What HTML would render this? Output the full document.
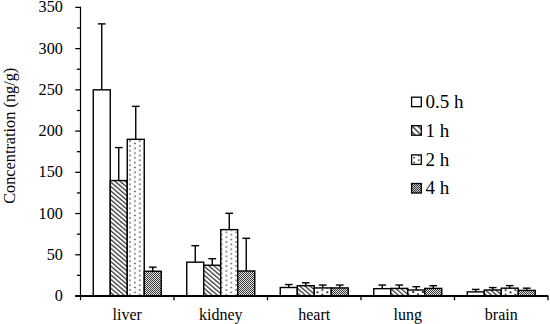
<!DOCTYPE html>
<html><head><meta charset="utf-8"><style>
html,body{margin:0;padding:0;background:#fff;}
body{width:550px;height:324px;overflow:hidden;}
svg{display:block;}
text{font-family:"Liberation Serif",serif;fill:#000;}
.yl{font-size:16.2px;text-anchor:end;}
.xl{font-size:16px;text-anchor:middle;}
.yt{font-size:16.3px;text-anchor:middle;}
.lg{font-size:19px;}
.b{stroke:#000;stroke-width:1.4;}
.lb{stroke:#000;stroke-width:1.3;}
.e{stroke:#000;stroke-width:1.4;}
.ax{stroke:#000;stroke-width:1.2;}
.xax{stroke:#000;stroke-width:2;}
.t{stroke:#000;stroke-width:1.3;}
</style></head><body>
<svg width="550" height="324" viewBox="0 0 550 324">
<defs>
<pattern id="hatch" patternUnits="userSpaceOnUse" width="3.36" height="3.36" patternTransform="rotate(-49.5)">
<rect width="3.36" height="3.36" fill="#fff"/><rect x="0.18" y="0" width="1.0" height="3.36" fill="#000"/>
</pattern>
<pattern id="dots" patternUnits="userSpaceOnUse" width="10" height="4.8">
<rect width="10" height="4.8" fill="#fff"/>
<rect x="-0.7" y="1.2" width="1.4" height="1.4" fill="#333"/><rect x="9.3" y="1.2" width="1.4" height="1.4" fill="#333"/>
<rect x="4.2" y="3.6" width="1.4" height="1.4" fill="#333"/><rect x="4.2" y="-1.2" width="1.4" height="1.4" fill="#333"/>
</pattern>
<pattern id="dark" patternUnits="userSpaceOnUse" width="2" height="2">
<rect width="2" height="2" fill="#e4e4e4"/>
<rect x="0" y="0" width="1" height="1" fill="#3a3a3a"/><rect x="1" y="1" width="1" height="1" fill="#3a3a3a"/>
</pattern>
<pattern id="lhatch" patternUnits="userSpaceOnUse" width="4.2" height="4.2" patternTransform="rotate(-45 416.45 130.45)" x="416.45" y="0">
<rect width="4.2" height="4.2" fill="#fff"/><rect x="-0.6" y="0" width="1.2" height="4.2" fill="#111"/><rect x="3.6" y="0" width="1.2" height="4.2" fill="#111"/>
</pattern>
<pattern id="ldots" patternUnits="userSpaceOnUse" width="9.2" height="4.8" x="414.1" y="157.6">
<rect width="9.2" height="4.8" fill="#fff"/>
<rect x="-0.7" y="-0.7" width="1.4" height="1.4" fill="#444"/><rect x="-0.7" y="4.1" width="1.4" height="1.4" fill="#444"/>
<rect x="3.9" y="1.7" width="1.4" height="1.4" fill="#444"/>
</pattern>
<pattern id="ldark" patternUnits="userSpaceOnUse" width="2" height="2">
<rect width="2" height="2" fill="#ccc"/>
<rect x="0" y="0" width="1" height="1" fill="#333"/><rect x="1" y="1" width="1" height="1" fill="#333"/>
</pattern>
<pattern id="dots0" patternUnits="userSpaceOnUse" width="9.8" height="4.8" x="130" y="203.5">
<rect width="9.8" height="4.8" fill="#fff"/>
<rect x="-0.7" y="-0.7" width="1.4" height="1.4" fill="#333"/><rect x="9.100000000000001" y="-0.7" width="1.4" height="1.4" fill="#333"/>
<rect x="-0.7" y="4.1" width="1.4" height="1.4" fill="#333"/><rect x="9.100000000000001" y="4.1" width="1.4" height="1.4" fill="#333"/>
<rect x="4.2" y="1.7" width="1.4" height="1.4" fill="#333"/>
</pattern>
<pattern id="dots1" patternUnits="userSpaceOnUse" width="9.8" height="4.8" x="226.4" y="232.4">
<rect width="9.8" height="4.8" fill="#fff"/>
<rect x="-0.7" y="-0.7" width="1.4" height="1.4" fill="#333"/><rect x="9.100000000000001" y="-0.7" width="1.4" height="1.4" fill="#333"/>
<rect x="-0.7" y="4.1" width="1.4" height="1.4" fill="#333"/><rect x="9.100000000000001" y="4.1" width="1.4" height="1.4" fill="#333"/>
<rect x="4.2" y="1.7" width="1.4" height="1.4" fill="#333"/>
</pattern>
<pattern id="dots2" patternUnits="userSpaceOnUse" width="9.8" height="4.8" x="317.5" y="292.3">
<rect width="9.8" height="4.8" fill="#fff"/>
<rect x="-0.9" y="-0.9" width="1.8" height="1.8" fill="#111"/><rect x="8.9" y="-0.9" width="1.8" height="1.8" fill="#111"/>
<rect x="-0.9" y="3.9" width="1.8" height="1.8" fill="#111"/><rect x="8.9" y="3.9" width="1.8" height="1.8" fill="#111"/>
<rect x="4.0" y="1.5" width="1.8" height="1.8" fill="#111"/>
</pattern>
<pattern id="dots3" patternUnits="userSpaceOnUse" width="9.8" height="4.8" x="413.2" y="292.0">
<rect width="9.8" height="4.8" fill="#fff"/>
<rect x="-0.9" y="-0.9" width="1.8" height="1.8" fill="#111"/><rect x="8.9" y="-0.9" width="1.8" height="1.8" fill="#111"/>
<rect x="-0.9" y="3.9" width="1.8" height="1.8" fill="#111"/><rect x="8.9" y="3.9" width="1.8" height="1.8" fill="#111"/>
<rect x="4.0" y="1.5" width="1.8" height="1.8" fill="#111"/>
</pattern>
<pattern id="dots4" patternUnits="userSpaceOnUse" width="9.8" height="4.8" x="510.5" y="292.4">
<rect width="9.8" height="4.8" fill="#fff"/>
<rect x="-0.9" y="-0.9" width="1.8" height="1.8" fill="#111"/><rect x="8.9" y="-0.9" width="1.8" height="1.8" fill="#111"/>
<rect x="-0.9" y="3.9" width="1.8" height="1.8" fill="#111"/><rect x="8.9" y="3.9" width="1.8" height="1.8" fill="#111"/>
<rect x="4.0" y="1.5" width="1.8" height="1.8" fill="#111"/>
</pattern>
</defs>
<rect width="550" height="324" fill="#fff"/>
<line x1="101.75" y1="23.88" x2="101.75" y2="89.85" class="e"/>
<line x1="97.90" y1="23.88" x2="105.60" y2="23.88" class="e"/>
<rect x="93.25" y="89.85" width="17.00" height="206.15" fill="#fff" class="b"/>
<line x1="118.75" y1="147.57" x2="118.75" y2="180.56" class="e"/>
<line x1="114.90" y1="147.57" x2="122.60" y2="147.57" class="e"/>
<rect x="110.25" y="180.56" width="17.00" height="115.44" fill="url(#hatch)" class="b"/>
<line x1="135.75" y1="106.34" x2="135.75" y2="139.33" class="e"/>
<line x1="131.90" y1="106.34" x2="139.60" y2="106.34" class="e"/>
<rect x="127.25" y="139.33" width="17.00" height="156.67" fill="url(#dots0)" class="b"/>
<line x1="152.75" y1="267.14" x2="152.75" y2="271.26" class="e"/>
<line x1="148.90" y1="267.14" x2="156.60" y2="267.14" class="e"/>
<rect x="144.25" y="271.26" width="17.00" height="24.74" fill="url(#dark)" class="b"/>
<line x1="195.25" y1="245.70" x2="195.25" y2="262.19" class="e"/>
<line x1="191.40" y1="245.70" x2="199.10" y2="245.70" class="e"/>
<rect x="186.75" y="262.19" width="17.00" height="33.81" fill="#fff" class="b"/>
<line x1="212.25" y1="258.73" x2="212.25" y2="265.24" class="e"/>
<line x1="208.40" y1="258.73" x2="216.10" y2="258.73" class="e"/>
<rect x="203.75" y="265.24" width="17.00" height="30.76" fill="url(#hatch)" class="b"/>
<line x1="229.25" y1="213.29" x2="229.25" y2="229.62" class="e"/>
<line x1="225.40" y1="213.29" x2="233.10" y2="213.29" class="e"/>
<rect x="220.75" y="229.62" width="17.00" height="66.38" fill="url(#dots1)" class="b"/>
<line x1="246.25" y1="238.28" x2="246.25" y2="271.01" class="e"/>
<line x1="242.40" y1="238.28" x2="250.10" y2="238.28" class="e"/>
<rect x="237.75" y="271.01" width="17.00" height="24.99" fill="url(#dark)" class="b"/>
<line x1="288.75" y1="284.54" x2="288.75" y2="287.51" class="e"/>
<line x1="284.90" y1="284.54" x2="292.60" y2="284.54" class="e"/>
<rect x="280.25" y="287.51" width="17.00" height="8.49" fill="#fff" class="b"/>
<line x1="305.75" y1="282.81" x2="305.75" y2="285.69" class="e"/>
<line x1="301.90" y1="282.81" x2="309.60" y2="282.81" class="e"/>
<rect x="297.25" y="285.69" width="17.00" height="10.31" fill="url(#hatch)" class="b"/>
<line x1="322.75" y1="285.03" x2="322.75" y2="287.92" class="e"/>
<line x1="318.90" y1="285.03" x2="326.60" y2="285.03" class="e"/>
<rect x="314.25" y="287.92" width="17.00" height="8.08" fill="url(#dots2)" class="b"/>
<line x1="339.75" y1="285.03" x2="339.75" y2="287.92" class="e"/>
<line x1="335.90" y1="285.03" x2="343.60" y2="285.03" class="e"/>
<rect x="331.25" y="287.92" width="17.00" height="8.08" fill="url(#dark)" class="b"/>
<line x1="382.25" y1="285.03" x2="382.25" y2="288.66" class="e"/>
<line x1="378.40" y1="285.03" x2="386.10" y2="285.03" class="e"/>
<rect x="373.75" y="288.66" width="17.00" height="7.34" fill="#fff" class="b"/>
<line x1="399.25" y1="285.03" x2="399.25" y2="288.41" class="e"/>
<line x1="395.40" y1="285.03" x2="403.10" y2="285.03" class="e"/>
<rect x="390.75" y="288.41" width="17.00" height="7.59" fill="url(#hatch)" class="b"/>
<line x1="416.25" y1="286.68" x2="416.25" y2="289.98" class="e"/>
<line x1="412.40" y1="286.68" x2="420.10" y2="286.68" class="e"/>
<rect x="407.75" y="289.98" width="17.00" height="6.02" fill="url(#dots3)" class="b"/>
<line x1="433.25" y1="285.69" x2="433.25" y2="288.41" class="e"/>
<line x1="429.40" y1="285.69" x2="437.10" y2="285.69" class="e"/>
<rect x="424.75" y="288.41" width="17.00" height="7.59" fill="url(#dark)" class="b"/>
<line x1="475.75" y1="289.40" x2="475.75" y2="291.88" class="e"/>
<line x1="471.90" y1="289.40" x2="479.60" y2="289.40" class="e"/>
<rect x="467.25" y="291.88" width="17.00" height="4.12" fill="#fff" class="b"/>
<line x1="492.75" y1="287.59" x2="492.75" y2="289.98" class="e"/>
<line x1="488.90" y1="287.59" x2="496.60" y2="287.59" class="e"/>
<rect x="484.25" y="289.98" width="17.00" height="6.02" fill="url(#hatch)" class="b"/>
<line x1="509.75" y1="285.61" x2="509.75" y2="288.17" class="e"/>
<line x1="505.90" y1="285.61" x2="513.60" y2="285.61" class="e"/>
<rect x="501.25" y="288.17" width="17.00" height="7.83" fill="url(#dots4)" class="b"/>
<line x1="526.75" y1="288.17" x2="526.75" y2="290.39" class="e"/>
<line x1="522.90" y1="288.17" x2="530.60" y2="288.17" class="e"/>
<rect x="518.25" y="290.39" width="17.00" height="5.61" fill="url(#dark)" class="b"/>
<line x1="80.5" y1="6.79" x2="80.5" y2="300.3" class="ax"/>
<line x1="75.3" y1="296.0" x2="548.3" y2="296.0" class="xax"/>
<line x1="75.3" y1="296.00" x2="80.5" y2="296.00" class="t"/>
<line x1="76.9" y1="275.38" x2="80.5" y2="275.38" class="t"/>
<line x1="75.3" y1="254.77" x2="80.5" y2="254.77" class="t"/>
<line x1="76.9" y1="234.16" x2="80.5" y2="234.16" class="t"/>
<line x1="75.3" y1="213.54" x2="80.5" y2="213.54" class="t"/>
<line x1="76.9" y1="192.93" x2="80.5" y2="192.93" class="t"/>
<line x1="75.3" y1="172.31" x2="80.5" y2="172.31" class="t"/>
<line x1="76.9" y1="151.69" x2="80.5" y2="151.69" class="t"/>
<line x1="75.3" y1="131.08" x2="80.5" y2="131.08" class="t"/>
<line x1="76.9" y1="110.47" x2="80.5" y2="110.47" class="t"/>
<line x1="75.3" y1="89.85" x2="80.5" y2="89.85" class="t"/>
<line x1="76.9" y1="69.24" x2="80.5" y2="69.24" class="t"/>
<line x1="75.3" y1="48.62" x2="80.5" y2="48.62" class="t"/>
<line x1="76.9" y1="28.00" x2="80.5" y2="28.00" class="t"/>
<line x1="75.3" y1="7.39" x2="80.5" y2="7.39" class="t"/>
<line x1="174.00" y1="296.0" x2="174.00" y2="300.3" class="t"/>
<line x1="267.50" y1="296.0" x2="267.50" y2="300.3" class="t"/>
<line x1="361.00" y1="296.0" x2="361.00" y2="300.3" class="t"/>
<line x1="454.50" y1="296.0" x2="454.50" y2="300.3" class="t"/>
<line x1="548.00" y1="296.0" x2="548.00" y2="300.3" class="t"/>
<rect x="411.6" y="97.20" width="9.7" height="9.5" fill="#fff" class="lb"/>
<rect x="411.6" y="125.70" width="9.7" height="9.5" fill="url(#lhatch)" class="lb"/>
<rect x="411.6" y="154.90" width="9.7" height="9.5" fill="#fff" class="lb"/>
<rect x="413.35" y="156.95" width="1.5" height="1.5" fill="#333"/>
<rect x="413.35" y="161.65" width="1.5" height="1.5" fill="#333"/>
<rect x="417.95" y="159.35" width="1.5" height="1.5" fill="#333"/>
<rect x="417.95" y="154.85" width="1.5" height="1.5" fill="#333"/>
<rect x="411.6" y="183.50" width="9.7" height="9.5" fill="url(#ldark)" class="lb"/>
<text x="62.9" y="301.00" class="yl">0</text>
<text x="62.9" y="259.77" class="yl">50</text>
<text x="62.9" y="218.54" class="yl">100</text>
<text x="62.9" y="177.31" class="yl">150</text>
<text x="62.9" y="136.08" class="yl">200</text>
<text x="62.9" y="94.85" class="yl">250</text>
<text x="62.9" y="53.62" class="yl">300</text>
<text x="62.9" y="12.39" class="yl">350</text>
<text x="127.25" y="319.5" class="xl">liver</text>
<text x="220.75" y="319.5" class="xl">kidney</text>
<text x="314.25" y="319.5" class="xl">heart</text>
<text x="407.75" y="319.5" class="xl">lung</text>
<text x="501.25" y="319.5" class="xl">brain</text>
<text transform="translate(15.0,135.8) rotate(-90)" class="yt">Concentration (ng/g)</text>
<text x="425.6" y="108.00" class="lg">0.5 h</text>
<text x="425.6" y="136.50" class="lg">1 h</text>
<text x="425.6" y="165.70" class="lg">2 h</text>
<text x="425.6" y="194.30" class="lg">4 h</text>
</svg>
</body></html>
